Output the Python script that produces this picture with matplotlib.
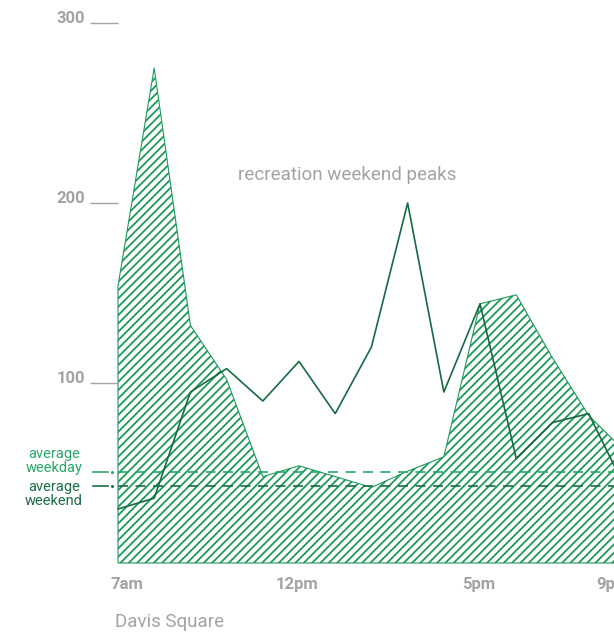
import matplotlib
matplotlib.use("Agg")
import matplotlib.pyplot as plt
from matplotlib.transforms import ScaledTranslation
import numpy as np

# hourly counts, 7am .. 9pm
hours = ["7am", "8am", "9am", "10am", "11am", "12pm", "1pm", "2pm", "3pm",
         "4pm", "5pm", "6pm", "7pm", "8pm", "9pm"]
weekday = [154, 275, 132, 102, 48, 54, 48, 42, 51, 59, 144, 149, 114, 82, 62]
weekend = [30, 36, 95, 108, 90, 112, 83, 120, 200, 95, 144, 58, 78, 83, 42]
avg_weekday = 50.5
avg_weekend = 43

ytick_vals = [100, 200, 300]
xtick_labels = ["7am", "12pm", "5pm", "9pm"]
xtick_idx = [hours.index(h) for h in xtick_labels]

c_hatch = "#1c9a5a"
c_weekend = "#176b42"
c_avg_wd = "#27a86a"
c_avg_we = "#1d6d47"
grey = "#a3a3a3"

plt.rcParams["font.family"] = ["Roboto", "DejaVu Sans"]
plt.rcParams["hatch.linewidth"] = 1.3

W, H = 614, 635
fig = plt.figure(figsize=(W / 100, H / 100), dpi=100)
ax = fig.add_axes([118 / W, (H - 563) / H, (W - 118) / W, 563 / H])
for s in ax.spines.values():
    s.set_visible(False)

x = np.arange(len(hours))

# weekday area, hatched
ax.fill_between(x, 0, weekday, facecolor="none", edgecolor=c_hatch,
                hatch="////", linewidth=0.8, clip_on=False)

# weekend line
ax.plot(x, weekend, color=c_weekend, lw=1.2, clip_on=False, zorder=3)

# averages
ax.axhline(avg_weekday, color=c_avg_wd, lw=1.2, dashes=(6, 4.5), zorder=2)
ax.axhline(avg_weekend, color=c_avg_we, lw=1.2, dashes=(6, 4.5), zorder=2)

ytr = ax.get_yaxis_transform()
xtr = ax.get_xaxis_transform()
for val, col in [(avg_weekday, c_avg_wd), (avg_weekend, c_avg_we)]:
    ax.plot([-0.050, -0.020], [val, val], color=col, lw=1.2,
            transform=ytr, clip_on=False)
    ax.plot([-0.012], [val], marker="o", ms=1.2, color=col,
            transform=ytr, clip_on=False)
ax.text(-0.129, avg_weekday - 1.5, "average\nweekday", transform=ytr,
        ha="center", va="bottom", fontsize=10.5, color=c_avg_wd,
        linespacing=0.95)
ax.text(-0.129, avg_weekend + 3, "average\nweekend", transform=ytr,
        ha="center", va="top", fontsize=10.5, color=c_avg_we,
        linespacing=0.95)

# y ticks: short grey lines with labels above-left
ax.set_yticks(ytick_vals)
ax.tick_params(axis="y", length=20, width=1, color=grey, labelleft=False)
for val in ytick_vals:
    ax.text(-0.066, val, str(val), transform=ytr, ha="right",
            va="baseline", fontsize=12, fontweight="bold", color=grey)

# x labels drawn as text so the last one (cut by the frame) still shows
ax.set_xticks([])
for idx, lab, dx in zip(xtick_idx, xtick_labels, [9, -2, -1, -12]):
    off = ScaledTranslation(dx / 100, 0, fig.dpi_scale_trans)
    ax.text(idx, -0.038, lab, transform=xtr + off, ha="center",
            va="center", fontsize=12, fontweight="bold", color=grey,
            clip_on=False)

ax.set_xlim(0, 13.7)
ax.set_ylim(0, 312.8)

fig.text(238 / W, 1 - 175 / H, "recreation weekend peaks", fontsize=13.5,
         color=grey, ha="left", va="center")
fig.text(115 / W, 1 - 622 / H, "Davis Square", fontsize=13.5,
         color=grey, ha="left", va="center")

fig.savefig("out.png", dpi=100)
